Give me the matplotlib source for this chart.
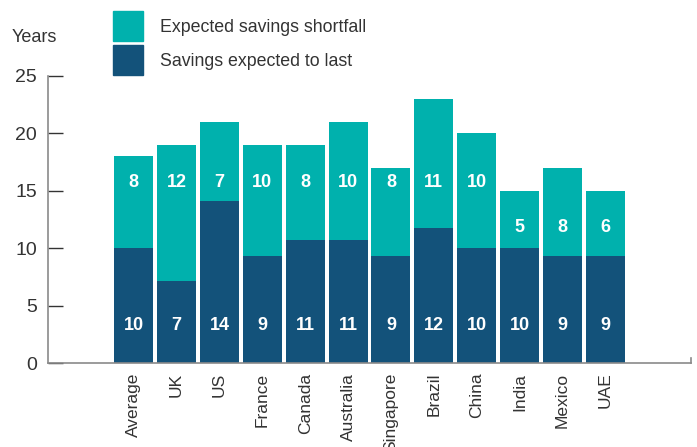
import numpy as np
import matplotlib.pyplot as plt
from matplotlib.patches import Rectangle

plt.rcParams['font.family'] = ['Liberation Sans', 'DejaVu Sans']

# data
kraje = ['Average', 'UK', 'US', 'France', 'Canada', 'Australia',
         'Singapore', 'Brazil', 'China', 'India', 'Mexico', 'UAE']
savings_last = [10, 7.1, 14.1, 9.3, 10.7, 10.7, 9.3, 11.8, 10, 10, 9.3, 9.3]
total_years = [18, 19, 21, 19, 19, 21, 17, 23, 20, 15, 17, 15]
labels_last = [10, 7, 14, 9, 11, 11, 9, 12, 10, 10, 9, 9]
labels_short = [8, 12, 7, 10, 8, 10, 8, 11, 10, 5, 8, 6]

shortfall = [t - b for t, b in zip(total_years, savings_last)]

teal = '#00b1ad'
navy = '#13527a'
grey_txt = '#333333'

fig = plt.figure(figsize=(6.97, 4.47), dpi=100)
ax = fig.add_axes([48 / 697, 84 / 447, 643 / 697, 287 / 447])

x = np.arange(len(kraje))
ax.bar(x, savings_last, width=0.91, color=navy)
ax.bar(x, shortfall, width=0.91, bottom=savings_last, color=teal)

# value labels
for i in x:
    ax.text(i, 3.3, str(labels_last[i]), color='white', fontsize=13,
            fontweight='bold', ha='center', va='center')
    y_top = 15.7 if i < 9 else 11.8
    ax.text(i, y_top, str(labels_short[i]), color='white', fontsize=13,
            fontweight='bold', ha='center', va='center')

ax.set_xlim(-2, 13)
ax.set_ylim(0, 25)
ax.set_yticks([0, 5, 10, 15, 20, 25])
ax.set_xticks(x)
ax.set_xticklabels(kraje, rotation=90, fontsize=12.5, color=grey_txt)

for s in ['top', 'right']:
    ax.spines[s].set_visible(False)
ax.spines['left'].set_color('#8a8a8a')
ax.spines['bottom'].set_color('#8a8a8a')
ax.spines['left'].set_linewidth(1.2)
ax.spines['bottom'].set_linewidth(1.2)
ax.tick_params(axis='y', direction='in', length=11, width=1, color='#333333',
               labelsize=14, labelcolor=grey_txt, pad=8)
ax.tick_params(axis='x', length=0, pad=7)
# little end tick on the right of x axis
ax.plot([1, 1], [0, 0.016], transform=ax.transAxes, color='#8a8a8a',
        lw=1.2, clip_on=False)

fig.text(12 / 697, 1 - 38 / 447, 'Years', fontsize=13, color=grey_txt,
         va='center', ha='left')

# legend drawn by hand
for yy, kol, txt in [(11, teal, 'Expected savings shortfall'),
                     (45, navy, 'Savings expected to last')]:
    fig.add_artist(Rectangle((113 / 697, 1 - (yy + 30) / 447), 30 / 697, 30 / 447,
                             transform=fig.transFigure, color=kol))
    fig.text(160 / 697, 1 - (yy + 16) / 447, txt, fontsize=12.8, color=grey_txt,
             va='center', ha='left')

plt.savefig('out.png', dpi=100)
